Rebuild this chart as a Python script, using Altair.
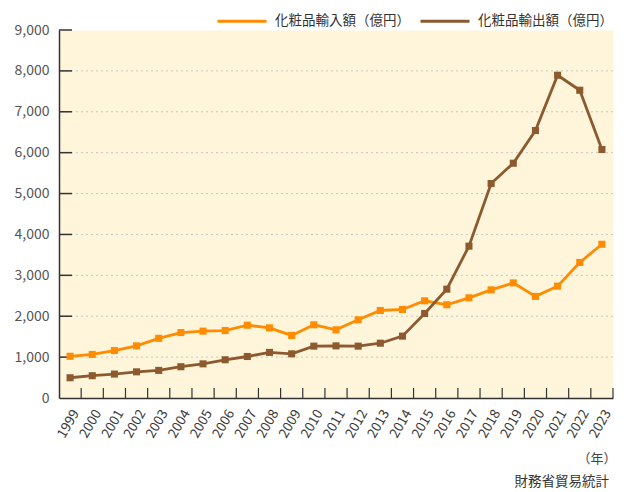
import altair as alt
import pandas as pd

# ---- data ----
years = [str(y) for y in range(1999, 2024)]
imports = [1020, 1065, 1160, 1275, 1460, 1600, 1635, 1650, 1780, 1715, 1530, 1790, 1667,
           1912, 2140, 2165, 2377, 2280, 2450, 2645, 2815, 2485, 2735, 3315, 3760]
exports = [495, 545, 585, 640, 675, 765, 835, 935, 1015, 1115, 1080, 1268, 1275,
           1268, 1340, 1513, 2067, 2662, 3713, 5245, 5742, 6541, 7894, 7527, 6077]
series_names = ["化粧品輸入額（億円）", "化粧品輸出額（億円）"]
series_colors = ["#FF8C00", "#8C5A2E"]
y_tick_values = [0, 1000, 2000, 3000, 4000, 5000, 6000, 7000, 8000, 9000]
grid_values = [1000, 2000, 3000, 4000, 5000, 6000, 7000, 8000]
x_unit = "（年）"
source_text = "財務省貿易統計"

W, H = 554, 368
FONT = "Noto Sans CJK JP"

long_df = pd.DataFrame({
    "year": years * 2,
    "value": imports + exports,
    "series": [series_names[0]] * len(years) + [series_names[1]] * len(years),
})
grid_df = pd.DataFrame({"value": grid_values})
ytick_df = pd.DataFrame({"value": [v for v in y_tick_values if v > 0]})
xtick_df = pd.DataFrame({"year": years})
src_df = pd.DataFrame({"t": [source_text]})

xscale = alt.Scale(type="band", paddingInner=0, paddingOuter=0)
xaxis = alt.Axis(labelAngle=-60, labelAlign="right", labelBaseline="top",
                 labelFontSize=13.5, labelColor="#3a3a3a", labelPadding=9,
                 ticks=False, grid=False, domainColor="#333", domainWidth=1.5,
                 title=x_unit, titleAnchor="end", titleAlign="right", titleBaseline="middle",
                 titleX=557, titleY=60, titleFontSize=13, titleFontWeight="normal",
                 titleColor="#444", labelFont=FONT, titleFont=FONT)
yscale = alt.Scale(domain=[0, 9000], nice=False)
yaxis = alt.Axis(values=y_tick_values, labelExpr="format(datum.value, ',')",
                 ticks=False, grid=False,
                 labelPadding=10, labelFontSize=14, labelColor="#555",
                 domainColor="#333", domainWidth=1.5, labelFont=FONT)

x_enc = alt.X("year:O", scale=xscale, axis=xaxis, title=x_unit)
y_enc = alt.Y("value:Q", scale=yscale, axis=yaxis, title=None)

grid = alt.Chart(grid_df).mark_rule(color="#c9c6c0", strokeDash=[2, 3], strokeWidth=1).encode(
    y=y_enc)

yticks = alt.Chart(ytick_df).mark_rule(color="#333", strokeWidth=1.5).encode(
    y=y_enc, x=alt.value(0), x2=alt.value(13))

xticks = alt.Chart(xtick_df).mark_rule(color="#333", strokeWidth=1.2).encode(
    x=alt.X("year:O", scale=xscale, axis=xaxis, title=x_unit, bandPosition=1),
    y=alt.value(H), y2=alt.value(H - 10))

lines = alt.Chart(long_df).mark_line(
    strokeWidth=2.8,
    point=alt.OverlayMarkDef(shape="square", size=50, filled=True, opacity=1),
).encode(
    x=x_enc,
    y=y_enc,
    color=alt.Color("series:N", sort=series_names,
                    scale=alt.Scale(domain=series_names, range=series_colors),
                    title=None,
                    legend=alt.Legend(orient="none", legendX=157, legendY=-35,
                                      direction="horizontal", symbolType="stroke",
                                      symbolSize=2401, symbolStrokeWidth=3,
                                      labelFontSize=13.5, labelColor="#333", labelFont=FONT,
                                      labelOffset=7, columnPadding=4, padding=0)),
    order=alt.Order("year:O"),
)

src = alt.Chart(src_df).mark_text(align="right", baseline="middle", fontSize=13.5,
                                  font=FONT, color="#333").encode(
    text="t:N", x=alt.value(550), y=alt.value(452))

chart = alt.layer(grid, yticks, xticks, lines, src).properties(
    width=W, height=H,
    autosize=alt.AutoSizeParams(type="none"),
    padding={"left": 51, "top": 22, "right": 3, "bottom": 94},
    background="white",
).configure(font=FONT).configure_view(fill="#FEF5DB", strokeOpacity=0)

chart.save("out.html", embed_options={"renderer": "svg", "actions": False})
